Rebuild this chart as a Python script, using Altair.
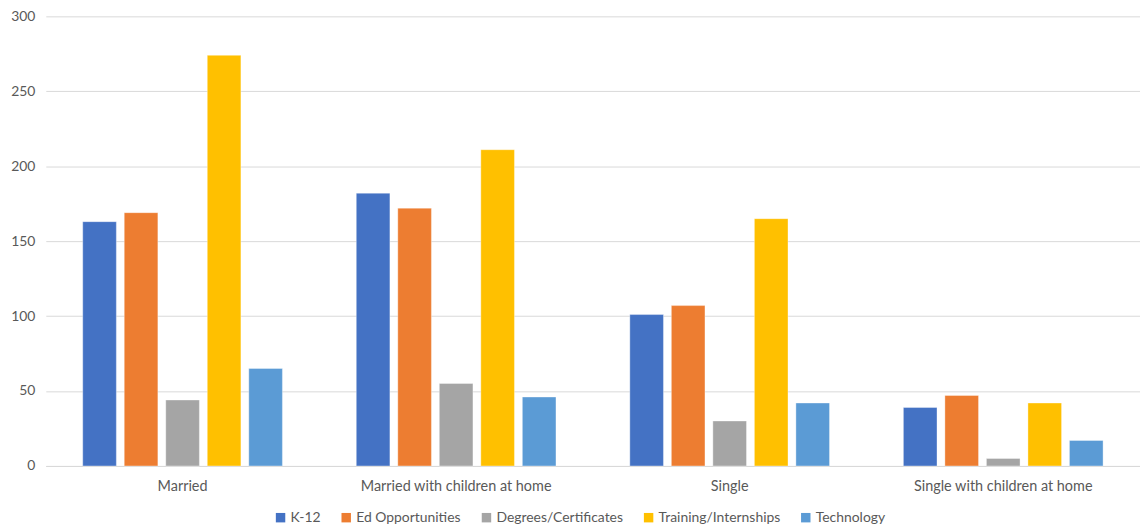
import altair as alt
import pandas as pd

categories = ["Married", "Married with children at home", "Single", "Single with children at home"]
series = ["K-12", "Ed Opportunities", "Degrees/Certificates", "Training/Internships", "Technology"]
colors = ["#4472C4", "#ED7D31", "#A5A5A5", "#FFC000", "#5B9BD5"]

k12 = [163, 182, 101, 39]
ed_opp = [169, 172, 107, 47]
degrees = [44, 55, 30, 5]
training = [274, 211, 165, 42]
technology = [65, 46, 42, 17]

values = [k12, ed_opp, degrees, training, technology]
rows = []
for s, vals in zip(series, values):
    for c, v in zip(categories, vals):
        rows.append({"category": c, "series": s, "value": v})
df = pd.DataFrame(rows)

FONT = "Lato"
TXT = "#595959"

chart = alt.Chart(df).mark_bar(stroke="white", strokeWidth=0.6, strokeOpacity=0.6).encode(
    x=alt.X("category:N", sort=categories, title=None,
            scale=alt.Scale(paddingInner=0.27, paddingOuter=0.135),
            axis=alt.Axis(labelAngle=0, ticks=False, domainColor="#d9d9d9", domainWidth=1,
                          labelFontSize=14.5, labelColor=TXT, labelFont=FONT, labelPadding=14,
                          labelLimit=0)),
    xOffset=alt.XOffset("series:N", sort=series, scale=alt.Scale(paddingInner=0.19)),
    y=alt.Y("value:Q", title=None,
            scale=alt.Scale(domain=[0, 300], nice=False),
            axis=alt.Axis(values=[0, 50, 100, 150, 200, 250, 300], ticks=False, domain=False,
                          gridColor="#d9d9d9", gridWidth=1, labelFontSize=14, labelColor=TXT,
                          labelFont=FONT, labelPadding=11)),
    color=alt.Color("series:N", sort=series,
                    scale=alt.Scale(domain=series, range=colors),
                    legend=alt.Legend(orient="none", legendX=229, legendY=497,
                                      direction="horizontal", title=None,
                                      symbolType="square", symbolSize=90, symbolStrokeWidth=0,
                                      labelFontSize=14, labelColor=TXT, labelFont=FONT,
                                      columnPadding=18, labelOffset=3, labelLimit=0)),
).properties(
    width=1100, height=452,
    autosize=alt.AutoSizeParams(type="none"),
    padding={"left": 38, "top": 7, "right": 0, "bottom": 60},
).configure_view(stroke=None)

chart.save("out.html", embed_options={"renderer": "svg", "actions": False})
